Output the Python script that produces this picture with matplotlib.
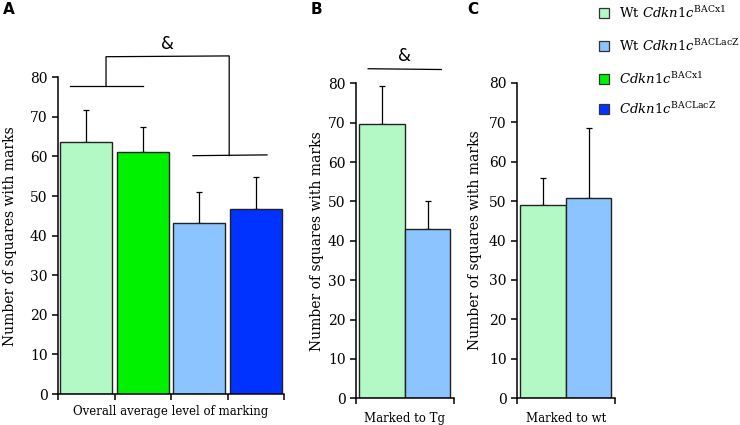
import numpy as np
import matplotlib
matplotlib.use("Agg")
from matplotlib import pyplot as plt
from matplotlib.patches import Rectangle

plt.rcParams['font.family'] = ['DejaVu Serif']
plt.rcParams['mathtext.fontset'] = 'custom'
plt.rcParams['mathtext.rm'] = 'DejaVu Serif'
plt.rcParams['mathtext.it'] = 'DejaVu Serif:italic'

# data
groups_a = ["Wt Cdkn1c BACx1", "Cdkn1c BACx1", "Wt Cdkn1c BACLacZ", "Cdkn1c BACLacZ"]
means_a = [63.7, 61.1, 43.1, 46.7]
errs_a = [8.0, 6.4, 7.8, 8.1]
means_b = [69.6, 43.0]
errs_b = [9.7, 7.1]
means_c = [49.0, 50.7]
errs_c = [6.8, 17.9]

lgreen = "#b3f9c5"
green = "#00f200"
lblue = "#8cc4ff"
blue = "#0033ff"
edge = "#222222"
colors_a = [lgreen, green, lblue, blue]
colors_bc = [lgreen, lblue]

legend_labels = [r"Wt $\mathit{Cdkn1c}^{\mathrm{BACx1}}$",
                 r"Wt $\mathit{Cdkn1c}^{\mathrm{BACLacZ}}$",
                 r"$\mathit{Cdkn1c}^{\mathrm{BACx1}}$",
                 r"$\mathit{Cdkn1c}^{\mathrm{BACLacZ}}$"]
legend_colors = [lgreen, lblue, green, blue]

W, H = 740, 425
fig = plt.figure(figsize=(7.4, 4.25), dpi=100)

def px_axes(left, right, bottom, top):
    return fig.add_axes([left / W, 1 - bottom / H, (right - left) / W, (bottom - top) / H])

def style(ax):
    for s in ['top', 'right']:
        ax.spines[s].set_visible(False)
    for s in ['left', 'bottom']:
        ax.spines[s].set_linewidth(1.1)
    ax.set_ylim(0, 80)
    ax.set_yticks(range(0, 81, 10))
    ax.tick_params(axis='y', labelsize=10, length=4, width=1.1, direction='out')
    ax.tick_params(axis='x', length=4, width=1.1, direction='out', labelbottom=False)
    ax.set_ylabel("Number of squares with marks", fontsize=10)

ekw = dict(ecolor='black', elinewidth=0.9, capsize=2.5, capthick=0.9)

# panel A
axA = px_axes(58, 284, 394, 77.3)
xa = np.arange(len(means_a))
axA.bar(xa, means_a, width=0.92, color=colors_a, edgecolor=edge, linewidth=1.0, zorder=2)
axA.errorbar(xa, means_a, yerr=[np.zeros(4), errs_a], fmt='none', zorder=1, **ekw)
axA.set_xlim(-0.5, 3.5)
axA.set_xticks(np.arange(-0.5, 4, 1))
style(axA)
axA.yaxis.set_label_coords(-0.18, 0.5)
axA.set_xlabel("Overall average level of marking", fontsize=8.5, labelpad=4)
bk = dict(color='black', lw=0.9, clip_on=False)
axA.plot([-0.29, 1.0], [77.8, 77.8], **bk)
axA.plot([0.35, 0.35, 2.53, 2.53], [77.8, 85.2, 85.4, 60.2], **bk)
axA.plot([1.89, 3.2], [60.2, 60.4], **bk)
axA.text(1.44, 86.1, "&", ha='center', va='bottom', fontsize=12, family='DejaVu Sans')

# panel B
axB = px_axes(356, 454, 398.3, 83.3)
xb = np.arange(2)
axB.bar(xb, means_b, width=1.0, color=colors_bc, edgecolor=edge, linewidth=1.0, zorder=2)
axB.errorbar(xb, means_b, yerr=[np.zeros(2), errs_b], fmt='none', zorder=1, **ekw)
axB.set_xlim(-0.566, 1.578)
axB.set_xticks([-0.566, 1.578])
style(axB)
axB.yaxis.set_label_coords(-0.33, 0.5)
axB.set_xlabel("Marked to Tg", fontsize=8.5, labelpad=6)
axB.plot([-0.3, 1.3], [83.7, 83.5], **bk)
axB.text(0.5, 84.7, "&", ha='center', va='bottom', fontsize=12, family='DejaVu Sans')

# panel C
axC = px_axes(517, 615, 398, 83)
axC.bar(xb, means_c, width=1.0, color=colors_bc, edgecolor=edge, linewidth=1.0, zorder=2)
axC.errorbar(xb, means_c, yerr=[np.zeros(2), errs_c], fmt='none', zorder=1, **ekw)
axC.set_xlim(-0.566, 1.578)
axC.set_xticks([-0.566, 1.578])
style(axC)
axC.yaxis.set_label_coords(-0.36, 0.5)
axC.set_xlabel("Marked to wt", fontsize=8.5, labelpad=6)

# legend
for i, (lab, col) in enumerate(zip(legend_labels, legend_colors)):
    yc = [13, 46, 79, 109][i]
    fig.patches.append(Rectangle((599 / W, 1 - (yc + 5) / H), 10 / W, 10 / H,
                                 transform=fig.transFigure, facecolor=col,
                                 edgecolor="#333333", linewidth=0.9))
    fig.text(619 / W, 1 - yc / H, lab, ha='left', va='center', fontsize=9.5)

# panel letters
for x, letter in [(3, "A"), (311, "B"), (467, "C")]:
    fig.text(x / W, 1 - 10 / H, letter, ha='left', va='center', fontsize=11,
             fontweight='bold', family='DejaVu Sans')

plt.savefig("out.png", dpi=100)
plt.close()
